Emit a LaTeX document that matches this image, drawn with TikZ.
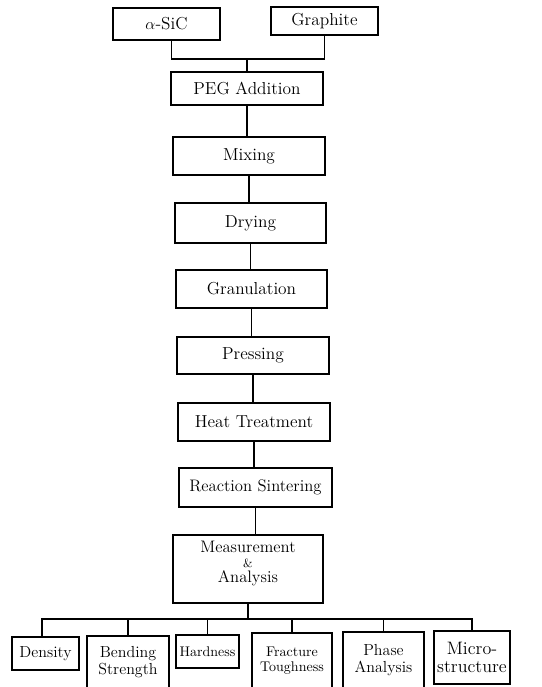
\documentclass[tikz,border=0pt]{standalone}
\begin{document}
\begin{tikzpicture}[x=0.75pt,y=-0.75pt,
  box/.style={draw, line width=0.9pt, inner sep=0pt, outer sep=0pt, align=center,
    font=\fontsize{13}{14}\selectfont},
  bw/.style={minimum width=#1*0.75pt},
  bh/.style={minimum height=#1*0.75pt},
  link/.style={line width=0.9pt},
  lowbox/.style={box, font=\fontsize{12}{13}\selectfont},
  smallbox/.style={box, font=\fontsize{10.5}{11}\selectfont}]
\useasboundingbox (0,0) rectangle (542,687);
\clip (0,0) rectangle (542,687);
\node[box, bw=107, bh=32] (sic) at (166.5,24) {$\alpha$-SiC};
\node[box, bw=107, bh=28] (graphite) at (324.5,21) {Graphite};
\node[box, bw=152, bh=33] (peg) at (247,88.5) {PEG Addition};
\node[box, bw=152, bh=38] (mixing) at (249,156) {Mixing};
\node[box, bw=151, bh=40] (drying) at (250.5,223) {Drying};
\node[box, bw=151, bh=38] (gran) at (251.5,289) {Granulation};
\node[box, bw=152, bh=37] (press) at (253,355.5) {Pressing};
\node[box, bw=152, bh=38] (heat) at (254,422) {Heat Treatment};
\node[box, bw=153, bh=39, font=\fontsize{12.5}{13}\selectfont] (react) at (255.5,487.5) {Reaction Sintering};
\node[box, bw=150, bh=68, font=\fontsize{12.5}{11}\selectfont] (meas) at (248,569)
  {Measurement\\{\small\&}\\Analysis\rule[-11pt]{0pt}{0pt}};
\node[lowbox, bw=67, bh=33] (density) at (45.5,653.5) {Density};
\node[lowbox, bw=82, bh=52] (bending) at (128,662) {Bending\\Strength};
\node[smallbox, bw=63, bh=33] (hardness) at (207.5,651.5) {Hardness};
\node[smallbox, bw=80, bh=56] (fracture) at (292,661) {Fracture\\Toughness};
\node[lowbox, bw=81, bh=56] (phase) at (383.5,660) {Phase\\Analysis};
\node[box, bw=76, bh=53, font=\fontsize{13.5}{13}\selectfont] (micro) at (472,657.5) {Micro-\\structure};
\coordinate (j1) at (247,59);
\coordinate (j2) at (248,619);
\draw[link] ([xshift=4pt]sic.south) |- (j1) -| (graphite.south);
\draw[link] (j1) -- (peg.north);
\draw[link] (peg.south) -- (peg.south |- mixing.north);
\draw[link] (mixing.south) -- (mixing.south |- drying.north);
\draw[link] (drying.south) -- (drying.south |- gran.north);
\draw[link] (gran.south) -- (gran.south |- press.north);
\draw[link] (press.south) -- (press.south |- heat.north);
\draw[link] (heat.south) -- (heat.south |- react.north);
\draw[link] (react.south) -- (react.south |- meas.north);
\draw[link] (meas.south) -- (j2);
\draw[link] ([xshift=-2.6pt]density.north) |- (j2) -| (micro.north);
\draw[link] (bending.north) -- (bending.north |- j2);
\draw[link] (hardness.north) -- (hardness.north |- j2);
\draw[link] (fracture.north) -- (fracture.north |- j2);
\draw[link] (phase.north) -- (phase.north |- j2);
\end{tikzpicture}
\end{document}
